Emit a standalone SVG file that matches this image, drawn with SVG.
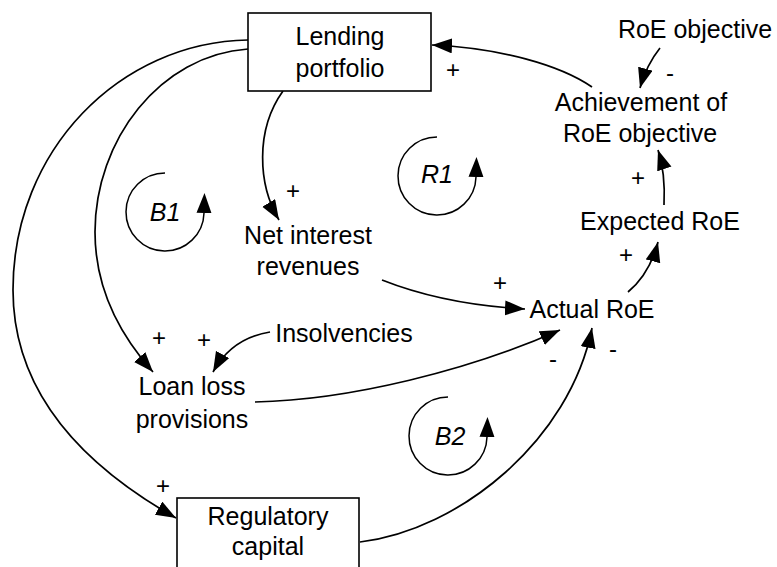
<svg xmlns="http://www.w3.org/2000/svg" width="777" height="567" viewBox="0 0 777 567">
<defs>
<marker id="ah" markerUnits="userSpaceOnUse" markerWidth="22" markerHeight="16" viewBox="0 0 22 16" refX="20" refY="7.5" orient="auto">
<path d="M0,0 L20,7.5 L0,15 z" fill="#000"/>
</marker>
<marker id="lh" markerUnits="userSpaceOnUse" markerWidth="22" markerHeight="16" viewBox="0 0 22 16" refX="0" refY="7.5" orient="auto">
<path d="M0,0 L20,7.5 L0,15 z" fill="#000"/>
</marker>
<style>
text{font-family:"Liberation Sans",Arial,sans-serif;font-size:25px;fill:#000;text-anchor:middle}
.s{font-size:24px}
.loop{font-style:italic}
.box{fill:#fff;stroke:#000;stroke-width:1.6}
.c{fill:none;stroke:#000;stroke-width:1.7;marker-end:url(#ah)}
.l{fill:none;stroke:#000;stroke-width:1.5;marker-end:url(#lh)}
</style>
</defs>
<rect width="777" height="567" fill="#fff"/>
<g id="connectors">
<path class="c" d="M248,40 C120,42 13,150 13,290 C13,405 100,475 176,518"/>
<path class="c" d="M248,49 C160,55 95,140 95,232 C95,290 120,335 153,372"/>
<path class="c" d="M283,91 C255,130 258,185 279,220"/>
<path class="c" d="M592,87 C560,65 500,48 432,45"/>
<path class="c" d="M660,48 C652,58 645,70 640,88"/>
<path class="c" d="M664,205 C665,185 664,168 658,150"/>
<path class="c" d="M628,292 C640,282 652,265 658,242"/>
<path class="c" d="M382,280 C420,295 470,306 525,309"/>
<path class="c" d="M255,402 C350,400 470,370 560,330"/>
<path class="c" d="M360,542 C460,530 570,440 592,328"/>
<path class="c" d="M270,332 C245,336 225,350 213,372"/>
<text class="s" x="293" y="199">+</text>
<text class="s" x="453" y="78">+</text>
<text class="s" x="638" y="186">+</text>
<text class="s" x="626" y="263">+</text>
<text class="s" x="500" y="291">+</text>
<text class="s" x="159" y="346">+</text>
<text class="s" x="204" y="348">+</text>
<text class="s" x="163" y="494">+</text>
<text class="s" x="670" y="81">-</text>
<text class="s" x="553" y="367">-</text>
<text class="s" x="613" y="357">-</text>
</g>
<g id="loop-B1">
<path class="l" d="M165,173 A39,39 0 1 0 204,213"/>
<text class="loop" x="165" y="221">B1</text>
</g>
<g id="loop-R1">
<path class="l" d="M437,137 A39,39 0 1 0 476,177"/>
<text class="loop" x="437" y="183">R1</text>
</g>
<g id="loop-B2">
<path class="l" d="M448,397 A39,39 0 1 0 487,437"/>
<text class="loop" x="450" y="445">B2</text>
</g>
<g id="lending-portfolio">
<rect class="box" x="248" y="13" width="183" height="78"/>
<text x="340" y="45">Lending</text>
<text x="340" y="77">portfolio</text>
</g>
<g id="roe-objective">
<text x="695" y="38">RoE objective</text>
</g>
<g id="achievement">
<text x="641" y="111">Achievement of</text>
<text x="640" y="142">RoE objective</text>
</g>
<g id="expected-roe">
<text x="660" y="230">Expected RoE</text>
</g>
<g id="actual-roe">
<text x="592" y="318">Actual RoE</text>
</g>
<g id="net-interest">
<text x="308" y="244">Net interest</text>
<text x="308" y="275">revenues</text>
</g>
<g id="insolvencies">
<text x="344" y="342">Insolvencies</text>
</g>
<g id="loan-loss">
<text x="192" y="395">Loan loss</text>
<text x="192" y="428">provisions</text>
</g>
<g id="regulatory-capital">
<rect class="box" x="177" y="498" width="182" height="90"/>
<text x="268" y="525">Regulatory</text>
<text x="268" y="555">capital</text>
</g>
</svg>
